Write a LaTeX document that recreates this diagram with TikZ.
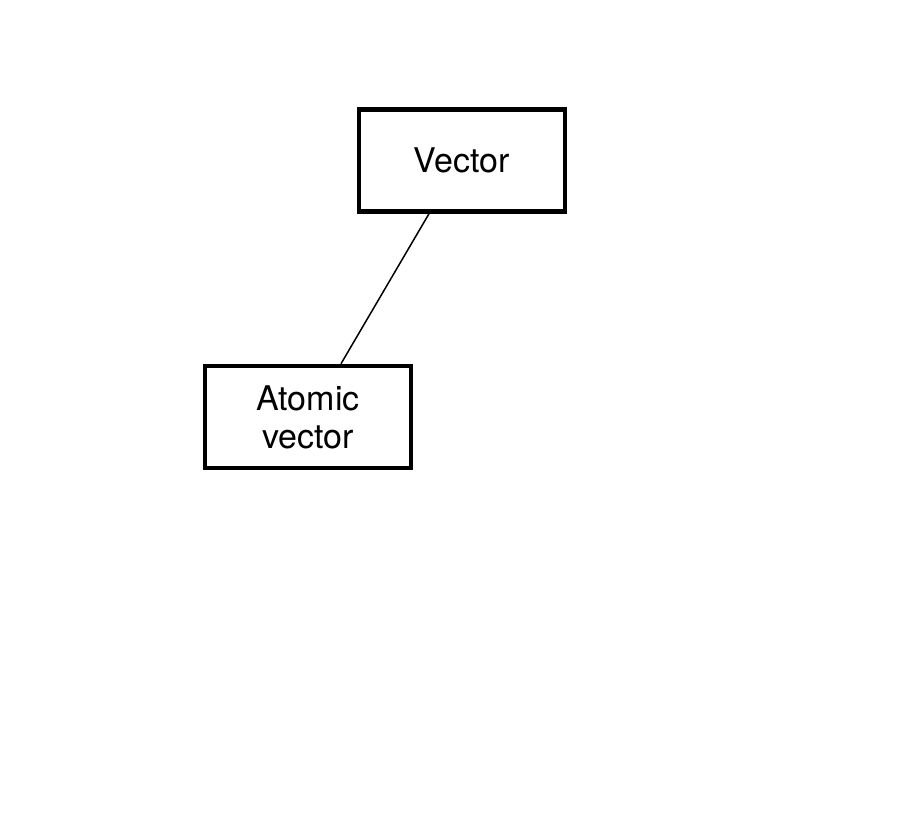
\documentclass[tikz,border=0pt]{standalone}
\usepackage{fontspec}
\setmainfont{TeX Gyre Heros}
\begin{document}
\begin{tikzpicture}[x=1pt,y=1pt,
  box/.style={draw=black, line width=4.5pt, minimum width=206pt, minimum height=102pt,
    inner sep=0pt, align=center, font=\fontsize{34}{38}\selectfont},
  link/.style={draw=black, line width=1.5pt}]
\useasboundingbox (0,0) rectangle (924,835);
\node[box] (v) at (462,674.5) {Vector};
\node[box] (a) at (308,418) {Atomic\\vector};
\draw[link] ([xshift=-33pt]v.south) -- ([xshift=33pt]a.north);
\end{tikzpicture}
\end{document}
